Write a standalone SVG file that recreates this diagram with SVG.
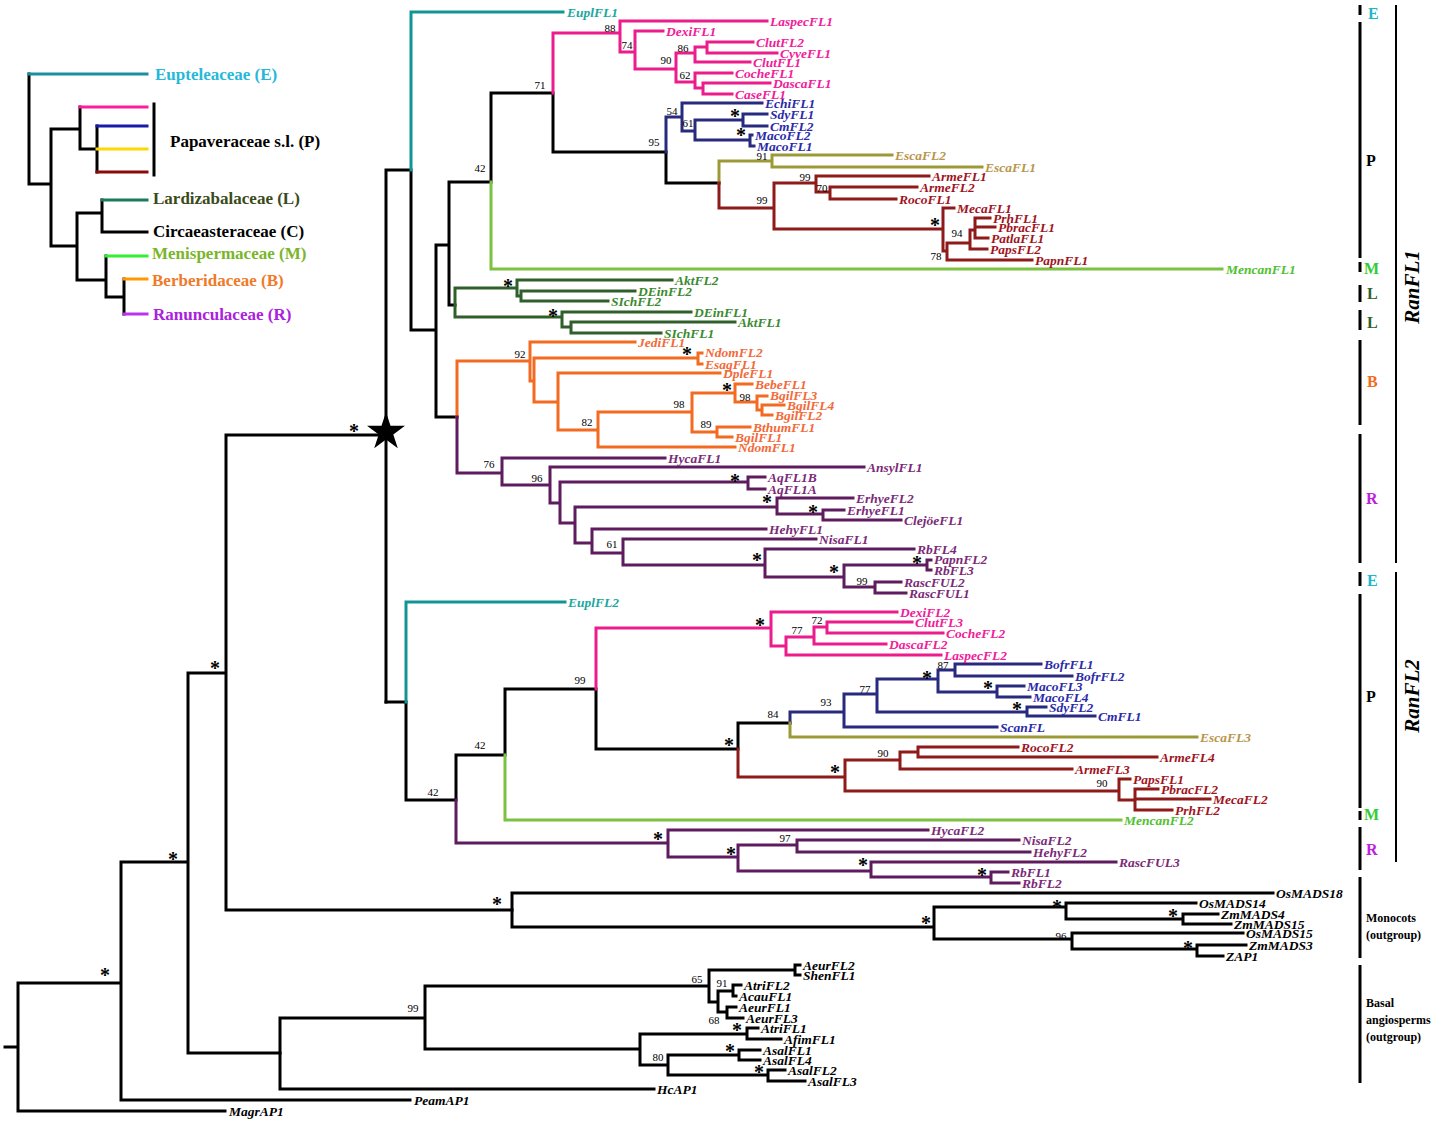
<svg xmlns="http://www.w3.org/2000/svg" width="1446" height="1122" viewBox="0 0 1446 1122">
<style>
.b{fill:none;stroke-width:3;stroke-linecap:square;stroke-linejoin:miter}
.k{stroke:#000}.te{stroke:#139494}.pk{stroke:#ec1c8c}.bl{stroke:#272a7e}.go{stroke:#9c9a36}.rd{stroke:#8e1a1a}.lg{stroke:#7cc242}.dg{stroke:#2f5f2a}.or{stroke:#f36a21}.pu{stroke:#5e1b5e}
.t{font-family:"Liberation Serif",serif;font-weight:bold;font-style:italic;font-size:13.5px}
.n{font-family:"Liberation Serif",serif;font-size:11px;text-anchor:middle;fill:#000}
.a{font-family:"Liberation Serif",serif;font-size:20px;font-weight:bold;text-anchor:middle;fill:#000}
.lgd{font-family:"Liberation Serif",serif;font-weight:bold;font-size:17px}
.cl{font-family:"Liberation Serif",serif;font-weight:bold;font-size:16px}
.og{font-family:"Liberation Serif",serif;font-weight:bold;font-size:12px;fill:#000}
.cte{fill:#1aa7a0}.cpk{fill:#f0209a}.cbl{fill:#2b2ba8}.cgo{fill:#b8964a}.crd{fill:#a0141e}.clg{fill:#50c030}.cdg{fill:#3a8a30}.cor{fill:#f26a3a}.cpu{fill:#7a2a78}.ck{fill:#000}
</style>
<rect width="1446" height="1122" fill="#fff"/>

<g id="connectors">
<!-- backbone -->
<path class="b k" d="M5 1047H18M18 983V1111M18 983H121M18 1111H225M121 862V1100M121 1100H410M121 862H188M188 673V1053M188 673H226M188 1053H280M226 435V910M226 910H512M226 435H386"/>
<!-- monocots -->
<path class="b k" d="M512 893V927M512 893H1273M512 927H934M934 907V939M934 907H1066M1066 903V919M1066 903H1196M1066 919H1183M1183 914V924M1183 914H1218M1183 924H1231M934 939H1072M1072 933V949M1072 933H1243M1072 949H1197M1197 945V956M1197 945H1246M1197 956H1223"/>
<!-- basal angiosperms -->
<path class="b k" d="M280 1018V1089M280 1089H654M280 1018H425M425 986V1049M425 986H709M709 970V1002M709 970H795M795 965V975M795 965H800M795 975H800M709 1002H718M718 991V1012M718 991H733M733 985V996M733 985H741M733 996H736M718 1012H727M727 1007V1018M727 1007H736M727 1018H743M425 1049H640M640 1034V1065M640 1034H747M747 1028V1039M747 1028H758M747 1039H781M640 1065H668M668 1055V1075M668 1055H739M739 1050V1060M739 1050H760M739 1060H760M668 1075H768M768 1070V1081M768 1070H785M768 1081H805"/>
<!-- RanFL1 -->
<path class="b k" d="M386 170V702M386 170H411M411 170V330H436M436 245V417H457M436 245H449M449 182V305H455M449 182H491M491 182V93H553M553 93V152H666M666 152V183H719"/>
<path class="b te" d="M411 170V12H563"/>
<path class="b pk" d="M553 93V33H620M620 21V52M620 21H767M620 52H635M635 31V69M635 31H663M635 69H676M676 53V82M676 53H695M695 47V62M695 47H707M707 42V53M707 42H753M707 53H777M695 62H750M676 82H695M695 73V88M695 73H732M695 88H703M703 83V94M703 83H770M703 94H732"/>
<path class="b bl" d="M666 152V117H682M682 103V131M682 103H762M682 131H695M695 120V140M695 120H743M743 114V126M743 114H767M743 126H767M695 140H750M750 135V146M750 135H752M750 146H754"/>
<path class="b go" d="M719 183V161H772M772 155V167M772 155H892M772 167H982"/>
<path class="b rd" d="M719 183V208H774M774 183V229M774 183H816M816 176V192M816 176H929M816 192H830M830 187V199M830 187H917M830 199H896M774 229H943M943 208V251M943 208H954M943 251H947M947 243V260M947 260H1032M947 243H970M970 230V249M970 249H987M970 230H975M975 218V238M975 218H990M975 227H995M975 238H988"/>
<path class="b lg" d="M491 182V269H1222"/>
<path class="b dg" d="M455 288V317M455 288H517M517 280V296H521M517 280H672M521 291V301M521 291H635M521 301H608M455 317H562M562 312V327M562 312H691M562 327H571M571 322V333M571 322H735M571 333H661"/>
<path class="b or" d="M457 417V361H530M530 342V381M530 342H635M530 381H534M534 358V402M534 358H698M698 353V364M698 353H702M698 364H702M534 402H558M558 373V430M558 373H720M558 430H598M598 412V447M598 447H735M598 412H692M692 393V432M692 393H735M735 384V402M735 384H752M735 402H757M757 396V410M757 396H767M757 410H762M762 405V415M762 405H784M762 415H772M692 432H717M717 427V437M717 427H750M717 437H732"/>
<path class="b pu" d="M457 417V473H502M502 458V485M502 458H665M502 485H550M550 467V503M550 467H864M550 503H560M560 482V523M560 482H748M748 477V489M748 477H765M748 489H765M560 523H575M575 507V543M575 507H777M777 498V514M777 498H853M777 514H823M823 510V520M823 510H844M823 520H901M575 543H592M592 529V553M592 529H766M592 553H623M623 539V565M623 539H816M623 565H765M765 549V577M765 549H914M765 577H844M844 565V587M844 565H927M927 560V570M927 560H931M927 570H931M844 587H875M875 582V593M875 582H901M875 593H906"/>
<!-- RanFL2 -->
<path class="b k" d="M386 702H406M406 702V800H456M456 755V800M456 755H505M505 755V689H596M596 689V749H738M738 749V723H790"/>
<path class="b te" d="M406 702V602H565"/>
<path class="b pk" d="M596 689V628H771M771 612V646M771 612H897M771 646H786M786 637V655M786 655H941M786 637H814M814 627V644M814 644H886M814 627H827M827 622V633M827 622H912M827 633H943"/>
<path class="b bl" d="M790 723V712H844M844 694V727M844 727H997M844 694H877M877 679V712M877 679H938M938 670V692M938 670H955M955 664V676M955 664H1041M955 676H1072M938 692H997M997 686V697M997 686H1024M997 697H1030M877 712H1027M1027 707V716M1027 707H1046M1027 716H1095"/>
<path class="b go" d="M790 723V737H1197"/>
<path class="b rd" d="M738 749V777H845M845 760V791M845 760H900M900 752V769M900 769H1072M900 752H918M918 747V757M918 747H1018M918 757H1157M845 791H1119M1119 779V800M1119 779H1130M1119 800H1135M1135 789V810M1135 789H1158M1135 799H1210M1135 810H1172"/>
<path class="b lg" d="M505 755V820H1121"/>
<path class="b pu" d="M456 800V843H668M668 830V857M668 830H928M668 857H738M738 845V871M738 845H797M797 840V852M797 840H1019M797 852H1030M738 871H871M871 862V877M871 862H1116M871 877H991M991 872V883M991 872H1008M991 883H1019"/>
</g>

<g id="duplication-star">
<polygon points="386,412 390.5,425.8 405,425.8 393.3,434.4 397.8,448.2 386,439.6 374.2,448.2 378.7,434.4 367,425.8 381.5,425.8" fill="#000"/>
</g>

<g id="support-values">
<text class="n" x="610" y="32">88</text>
<text class="n" x="627" y="49">74</text>
<text class="n" x="683" y="52">86</text>
<text class="n" x="666" y="64">90</text>
<text class="n" x="685" y="79">62</text>
<text class="n" x="540" y="89">71</text>
<text class="n" x="672" y="115">54</text>
<text class="n" x="688" y="127">61</text>
<text class="n" x="654" y="146">95</text>
<text class="n" x="762" y="160">91</text>
<text class="n" x="805" y="181">99</text>
<text class="n" x="822" y="192">70</text>
<text class="n" x="762" y="204">99</text>
<text class="n" x="957" y="237">94</text>
<text class="n" x="936" y="260">78</text>
<text class="n" x="480" y="172">42</text>
<text class="n" x="520" y="358">92</text>
<text class="n" x="679" y="408">98</text>
<text class="n" x="745" y="401">98</text>
<text class="n" x="706" y="428">89</text>
<text class="n" x="587" y="426">82</text>
<text class="n" x="489" y="468">76</text>
<text class="n" x="537" y="482">96</text>
<text class="n" x="612" y="548">61</text>
<text class="n" x="862" y="585">99</text>
<text class="n" x="817" y="624">72</text>
<text class="n" x="797" y="634">77</text>
<text class="n" x="580" y="684">99</text>
<text class="n" x="943" y="669">87</text>
<text class="n" x="865" y="693">77</text>
<text class="n" x="826" y="706">93</text>
<text class="n" x="773" y="718">84</text>
<text class="n" x="883" y="757">90</text>
<text class="n" x="1102" y="787">90</text>
<text class="n" x="480" y="749">42</text>
<text class="n" x="433" y="796">42</text>
<text class="n" x="785" y="842">97</text>
<text class="n" x="1061" y="940">96</text>
<text class="n" x="413" y="1012">99</text>
<text class="n" x="697" y="983">65</text>
<text class="n" x="722" y="987">91</text>
<text class="n" x="714" y="1024">68</text>
<text class="n" x="658" y="1061">80</text>
</g>

<g id="asterisks">
<text class="a" x="508" y="293">*</text>
<text class="a" x="553" y="323">*</text>
<text class="a" x="687" y="361">*</text>
<text class="a" x="727" y="397">*</text>
<text class="a" x="735" y="123">*</text>
<text class="a" x="741" y="142">*</text>
<text class="a" x="935" y="232">*</text>
<text class="a" x="735" y="488">*</text>
<text class="a" x="767" y="509">*</text>
<text class="a" x="813" y="519">*</text>
<text class="a" x="757" y="567">*</text>
<text class="a" x="834" y="579">*</text>
<text class="a" x="917" y="570">*</text>
<text class="a" x="760" y="632">*</text>
<text class="a" x="927" y="685">*</text>
<text class="a" x="988" y="695">*</text>
<text class="a" x="1017" y="716">*</text>
<text class="a" x="729" y="752">*</text>
<text class="a" x="835" y="779">*</text>
<text class="a" x="658" y="846">*</text>
<text class="a" x="731" y="861">*</text>
<text class="a" x="863" y="872">*</text>
<text class="a" x="982" y="882">*</text>
<text class="a" x="497" y="911">*</text>
<text class="a" x="926" y="930">*</text>
<text class="a" x="1057" y="914">*</text>
<text class="a" x="1173" y="923">*</text>
<text class="a" x="1188" y="955">*</text>
<text class="a" x="737" y="1037">*</text>
<text class="a" x="730" y="1058">*</text>
<text class="a" x="759" y="1079">*</text>
<text class="a" x="354" y="438">*</text>
<text class="a" x="215" y="675">*</text>
<text class="a" x="173" y="866">*</text>
<text class="a" x="105" y="982">*</text>
</g>

<g id="tips-ranfl1">
<text class="t cte" x="567" y="17">EuplFL1</text>
<text class="t cpk" x="770" y="26">LaspecFL1</text>
<text class="t cpk" x="666" y="36">DexiFL1</text>
<text class="t cpk" x="756" y="47">ClutFL2</text>
<text class="t cpk" x="780" y="58">CyveFL1</text>
<text class="t cpk" x="753" y="67">ClutFL1</text>
<text class="t cpk" x="735" y="78">CocheFL1</text>
<text class="t cpk" x="773" y="88">DascaFL1</text>
<text class="t cpk" x="735" y="99">CaseFL1</text>
<text class="t cbl" x="765" y="108">EchiFL1</text>
<text class="t cbl" x="770" y="119">SdyFL1</text>
<text class="t cbl" x="770" y="131">CmFL2</text>
<text class="t cbl" x="755" y="140">MacoFL2</text>
<text class="t cbl" x="757" y="151">MacoFL1</text>
<text class="t cgo" x="895" y="160">EscaFL2</text>
<text class="t cgo" x="985" y="172">EscaFL1</text>
<text class="t crd" x="932" y="181">ArmeFL1</text>
<text class="t crd" x="920" y="192">ArmeFL2</text>
<text class="t crd" x="899" y="204">RocoFL1</text>
<text class="t crd" x="957" y="213">MecaFL1</text>
<text class="t crd" x="993" y="223">PrhFL1</text>
<text class="t crd" x="998" y="232">PbracFL1</text>
<text class="t crd" x="991" y="243">PatlaFL1</text>
<text class="t crd" x="990" y="254">PapsFL2</text>
<text class="t crd" x="1035" y="265">PapnFL1</text>
<text class="t clg" x="1226" y="274">MencanFL1</text>
<text class="t cdg" x="675" y="285">AktFL2</text>
<text class="t cdg" x="638" y="296">DEinFL2</text>
<text class="t cdg" x="611" y="306">SIchFL2</text>
<text class="t cdg" x="694" y="317">DEinFL1</text>
<text class="t cdg" x="738" y="327">AktFL1</text>
<text class="t cdg" x="664" y="338">SIchFL1</text>
<text class="t cor" x="638" y="347">JediFL1</text>
<text class="t cor" x="705" y="357">NdomFL2</text>
<text class="t cor" x="705" y="369">EsagFL1</text>
<text class="t cor" x="723" y="378">DpleFL1</text>
<text class="t cor" x="755" y="389">BebeFL1</text>
<text class="t cor" x="770" y="400">BgilFL3</text>
<text class="t cor" x="787" y="410">BgilFL4</text>
<text class="t cor" x="775" y="420">BgilFL2</text>
<text class="t cor" x="753" y="432">BthumFL1</text>
<text class="t cor" x="735" y="442">BgilFL1</text>
<text class="t cor" x="738" y="452">NdomFL1</text>
<text class="t cpu" x="668" y="463">HycaFL1</text>
<text class="t cpu" x="867" y="472">AnsylFL1</text>
<text class="t cpu" x="768" y="482">AqFL1B</text>
<text class="t cpu" x="768" y="494">AqFL1A</text>
<text class="t cpu" x="856" y="503">ErhyeFL2</text>
<text class="t cpu" x="847" y="515">ErhyeFL1</text>
<text class="t cpu" x="904" y="525">ClejöeFL1</text>
<text class="t cpu" x="769" y="534">HehyFL1</text>
<text class="t cpu" x="819" y="544">NisaFL1</text>
<text class="t cpu" x="917" y="554">RbFL4</text>
<text class="t cpu" x="934" y="564">PapnFL2</text>
<text class="t cpu" x="934" y="575">RbFL3</text>
<text class="t cpu" x="904" y="587">RascFUL2</text>
<text class="t cpu" x="909" y="598">RascFUL1</text>
</g>

<g id="tips-ranfl2">
<text class="t cte" x="568" y="607">EuplFL2</text>
<text class="t cpk" x="900" y="617">DexiFL2</text>
<text class="t cpk" x="915" y="627">ClutFL3</text>
<text class="t cpk" x="946" y="638">CocheFL2</text>
<text class="t cpk" x="889" y="649">DascaFL2</text>
<text class="t cpk" x="944" y="660">LaspecFL2</text>
<text class="t cbl" x="1044" y="669">BofrFL1</text>
<text class="t cbl" x="1075" y="681">BofrFL2</text>
<text class="t cbl" x="1027" y="691">MacoFL3</text>
<text class="t cbl" x="1033" y="702">MacoFL4</text>
<text class="t cbl" x="1049" y="712">SdyFL2</text>
<text class="t cbl" x="1098" y="721">CmFL1</text>
<text class="t cbl" x="1000" y="732">ScanFL</text>
<text class="t cgo" x="1200" y="742">EscaFL3</text>
<text class="t crd" x="1021" y="752">RocoFL2</text>
<text class="t crd" x="1160" y="762">ArmeFL4</text>
<text class="t crd" x="1075" y="774">ArmeFL3</text>
<text class="t crd" x="1133" y="784">PapsFL1</text>
<text class="t crd" x="1161" y="794">PbracFL2</text>
<text class="t crd" x="1213" y="804">MecaFL2</text>
<text class="t crd" x="1175" y="815">PrhFL2</text>
<text class="t clg" x="1124" y="825">MencanFL2</text>
<text class="t cpu" x="931" y="835">HycaFL2</text>
<text class="t cpu" x="1022" y="845">NisaFL2</text>
<text class="t cpu" x="1033" y="857">HehyFL2</text>
<text class="t cpu" x="1119" y="867">RascFUL3</text>
<text class="t cpu" x="1011" y="877">RbFL1</text>
<text class="t cpu" x="1022" y="888">RbFL2</text>
</g>

<g id="tips-outgroups">
<text class="t ck" x="1276" y="898">OsMADS18</text>
<text class="t ck" x="1199" y="908">OsMADS14</text>
<text class="t ck" x="1221" y="919">ZmMADS4</text>
<text class="t ck" x="1234" y="929">ZmMADS15</text>
<text class="t ck" x="1246" y="938">OsMADS15</text>
<text class="t ck" x="1249" y="950">ZmMADS3</text>
<text class="t ck" x="1226" y="961">ZAP1</text>
<text class="t ck" x="803" y="970">AeurFL2</text>
<text class="t ck" x="803" y="980">ShenFL1</text>
<text class="t ck" x="744" y="990">AtriFL2</text>
<text class="t ck" x="739" y="1001">AcauFL1</text>
<text class="t ck" x="739" y="1012">AeurFL1</text>
<text class="t ck" x="746" y="1023">AeurFL3</text>
<text class="t ck" x="761" y="1033">AtriFL1</text>
<text class="t ck" x="784" y="1044">AfimFL1</text>
<text class="t ck" x="763" y="1055">AsalFL1</text>
<text class="t ck" x="763" y="1065">AsalFL4</text>
<text class="t ck" x="788" y="1075">AsalFL2</text>
<text class="t ck" x="808" y="1086">AsalFL3</text>
<text class="t ck" x="657" y="1094">HcAP1</text>
<text class="t ck" x="414" y="1105">PeamAP1</text>
<text class="t ck" x="229" y="1116">MagrAP1</text>
</g>

<g id="legend">
<path class="b k" d="M29 74V184H51M51 129V246M51 129H80M80 107V149M80 149H97M97 126V172M51 246H77M77 213V280M77 213H102M102 200V232M102 232H147M77 280H106M106 256V297M106 297H124M124 279V314"/>
<path class="b" stroke="#1a8fa0" d="M29 74H147"/>
<path class="b" stroke="#ff1a9a" d="M80 107H147"/>
<path class="b" stroke="#1a1aaa" d="M97 126H147"/>
<path class="b" stroke="#ffd700" d="M97 149H147"/>
<path class="b" stroke="#8b0a0a" d="M97 172H147"/>
<path class="b" stroke="#1a7a5a" d="M102 200H147"/>
<path class="b" stroke="#33ee33" d="M106 256H147"/>
<path class="b" stroke="#ff9900" d="M124 279H147"/>
<path class="b" stroke="#bb33ee" d="M124 314H147"/>
<path class="b k" d="M154 104V175"/>
<text class="lgd" x="155" y="80" fill="#26b8d8">Eupteleaceae (E)</text>
<text class="lgd" x="170" y="147" fill="#000">Papaveraceae s.l. (P)</text>
<text class="lgd" x="153" y="204" fill="#3a4a1a">Lardizabalaceae (L)</text>
<text class="lgd" x="153" y="237" fill="#000">Circaeasteraceae (C)</text>
<text class="lgd" x="152" y="259" fill="#7ab52a">Menispermaceae (M)</text>
<text class="lgd" x="152" y="286" fill="#f07a2a">Berberidaceae (B)</text>
<text class="lgd" x="153" y="320" fill="#aa22dd">Ranunculaceae (R)</text>
</g>

<g id="clade-bars">
<path fill="none" stroke="#000" stroke-width="3" d="M1360 5V15M1360 22V258M1360 262V272M1360 285V302M1360 310V330M1360 340V425M1360 434V563M1360 572V586M1360 594V808M1360 811V820M1360 827V870M1360 877V958M1360 965V1083"/>
<path fill="none" stroke="#000" stroke-width="2" d="M1396 5V563M1396 572V862"/>
<text class="cl" x="1368" y="19" fill="#1ab8c8">E</text>
<text class="cl" x="1366" y="166" fill="#000">P</text>
<text class="cl" x="1364" y="274" fill="#33cc33">M</text>
<text class="cl" x="1367" y="299" fill="#2f5f2a">L</text>
<text class="cl" x="1367" y="328" fill="#2f5f2a">L</text>
<text class="cl" x="1367" y="387" fill="#f36a21">B</text>
<text class="cl" x="1366" y="504" fill="#bb22dd">R</text>
<text class="cl" x="1367" y="586" fill="#1ab8c8">E</text>
<text class="cl" x="1366" y="702" fill="#000">P</text>
<text class="cl" x="1364" y="820" fill="#33cc33">M</text>
<text class="cl" x="1366" y="855" fill="#bb22dd">R</text>
<text class="og" x="1366" y="922">Monocots</text>
<text class="og" x="1366" y="939">(outgroup)</text>
<text class="og" x="1366" y="1007">Basal</text>
<text class="og" x="1366" y="1024">angiosperms</text>
<text class="og" x="1366" y="1041">(outgroup)</text>
<text font-family="Liberation Serif, serif" font-weight="bold" font-style="italic" font-size="21" text-anchor="middle" transform="translate(1419,287) rotate(-90)">RanFL1</text>
<text font-family="Liberation Serif, serif" font-weight="bold" font-style="italic" font-size="21" text-anchor="middle" transform="translate(1419,696) rotate(-90)">RanFL2</text>
</g>
</svg>
